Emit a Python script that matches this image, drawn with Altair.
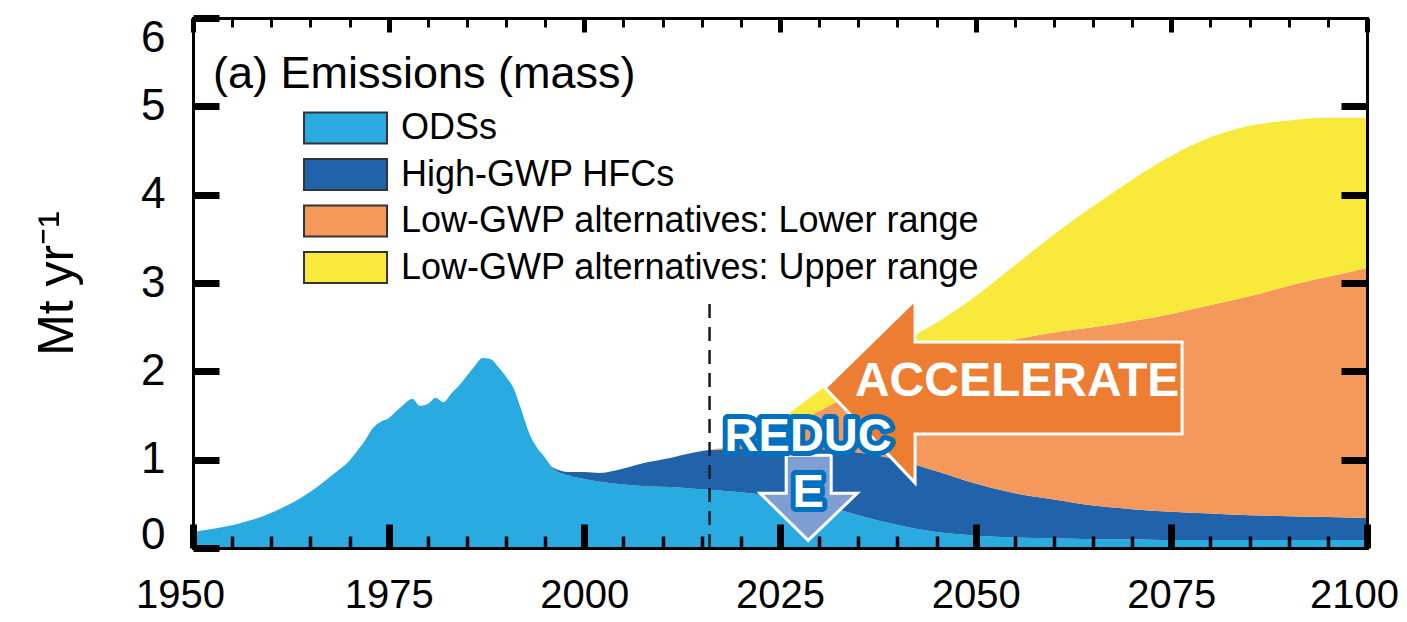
import altair as alt
import pandas as pd

# ---------------- data ----------------
years = [1950, 1952, 1954, 1956, 1958, 1960, 1962, 1964, 1966, 1968, 1970,
         1971, 1972, 1973, 1974, 1975, 1976, 1977, 1978, 1979, 1980, 1981,
         1982, 1983, 1984, 1985, 1986, 1987, 1988, 1989, 1990, 1991, 1992,
         1993, 1994, 1995, 1996,
         1998, 2000, 2002, 2005, 2008, 2011, 2014, 2016,
         2020, 2025, 2030, 2035, 2040, 2045, 2050, 2055, 2060, 2065, 2070,
         2075, 2080, 2085, 2090, 2095, 2100]

ods = [0.18, 0.21, 0.24, 0.28, 0.33, 0.40, 0.48, 0.58, 0.70, 0.84, 0.99,
       1.10, 1.22, 1.36, 1.43, 1.47, 1.55, 1.63, 1.69, 1.61, 1.63, 1.70,
       1.65, 1.75, 1.84, 1.95, 2.06, 2.15, 2.14, 2.05, 1.94, 1.80, 1.55,
       1.29, 1.13, 1.02, 0.90,
       0.82, 0.78, 0.75, 0.72, 0.70, 0.69, 0.67, 0.66,
       0.63, 0.58, 0.50, 0.37, 0.26, 0.18, 0.14, 0.12, 0.11, 0.10, 0.10,
       0.09, 0.09, 0.09, 0.09, 0.09, 0.09]

hfc = [0.0] * 36 + [0.01,
       0.04, 0.08, 0.10, 0.18, 0.27, 0.33, 0.41, 0.45,
       0.49, 0.55, 0.62, 0.71, 0.74, 0.69, 0.59, 0.50, 0.44, 0.38, 0.34,
       0.32, 0.30, 0.28, 0.27, 0.26, 0.25]

low_gwp_lower = [0.0] * 45 + [
       0.05, 0.19, 0.43, 0.70, 0.98, 1.26, 1.53, 1.74, 1.89, 2.02, 2.13,
       2.24, 2.36, 2.48, 2.61, 2.72, 2.83]

low_gwp_upper = [0.0] * 45 + [
       0.03, 0.13, 0.23, 0.28, 0.32, 0.42, 0.59, 0.84, 1.11, 1.37, 1.60,
       1.79, 1.90, 1.93, 1.87, 1.80, 1.70]

series_names = ["ODSs", "High-GWP HFCs",
                "Low-GWP alternatives: Lower range",
                "Low-GWP alternatives: Upper range"]
series_colors = ["#29ABE2", "#2163AA", "#F4995B", "#F9E93A"]

x_major = [1950, 1975, 2000, 2025, 2050, 2075, 2100]
x_minor = [y for y in range(1955, 2100, 5) if y % 25 != 0]
y_labels = [0, 1, 2, 3, 4, 5, 6]
y_inner = [1, 2, 3, 4, 5]

# dashed "today" line
marker_year = [2016]
marker_top = [2.83]

# annotations (data coordinates)
accel_arrow_x = [2053.5]
accel_arrow_y = [1.79]
reduce_arrow_x = [2028.6]
reduce_arrow_y = [0.54]
accel_label = ["ACCELERATE"]
accel_label_x = [2055.3]
accel_label_y = [1.88]
reduce_label = ["REDUC", "E"]
reduce_label_x = [2028.6, 2028.6]
reduce_label_y = [1.26, 0.62]

# ---------------- tables ----------------
rows = []
for k, (name, vals) in enumerate(zip(series_names,
                                     [ods, hfc, low_gwp_lower, low_gwp_upper])):
    for yr, v in zip(years, vals):
        rows.append({"year": yr, "value": v, "series": name, "k": k})
df = pd.DataFrame(rows)

rule_df = pd.DataFrame({"year": marker_year, "y0": [0] * len(marker_year), "y1": marker_top})
accel_arrow_df = pd.DataFrame({"x": accel_arrow_x, "y": accel_arrow_y})
reduce_arrow_df = pd.DataFrame({"x": reduce_arrow_x, "y": reduce_arrow_y})
accel_label_df = pd.DataFrame({"x": accel_label_x, "y": accel_label_y, "t": accel_label})
reduce_label_df = pd.DataFrame({"x": reduce_label_x, "y": reduce_label_y, "t": reduce_label})

# ---------------- styling ----------------
TEXT_FONT = "Liberation Sans, Arial, sans-serif"

xscale = alt.Scale(domain=[1950, 2100], nice=False, zero=False)
yscale = alt.Scale(domain=[0, 6], nice=False)

ax_bottom_major = alt.Axis(
    orient="bottom", values=x_major, format="d", title=None, grid=False,
    domain=False, tickSize=24, tickWidth=7, tickColor="black", offset=-24,
    labelFont=TEXT_FONT, labelFontSize=40, labelColor="black", labelPadding=27,
    labelFlush=False, labelOverlap=False, zindex=1,
    labelOffset={"condition": [{"test": "datum.value == 1950", "value": -13},
                               {"test": "datum.value == 2100", "value": -13}],
                 "value": 0})
ax_bottom_minor = alt.Axis(
    orient="bottom", values=x_minor, labels=False, title=None, grid=False,
    domain=False, tickSize=12, tickWidth=3.5, tickColor="black", offset=-12,
    zindex=1)
ax_top_major = alt.Axis(
    orient="top", values=x_major, labels=False, title=None, grid=False,
    domain=False, tickSize=14, tickWidth=5, tickColor="black", offset=-14,
    zindex=1)
ax_top_minor = alt.Axis(
    orient="top", values=x_minor, labels=False, title=None, grid=False,
    domain=False, tickSize=9, tickWidth=3, tickColor="black", offset=-9,
    zindex=1)
ax_left = alt.Axis(
    orient="left", values=y_labels, format="d", grid=False, domain=False,
    tickSize=26, tickWidth=7, tickColor="black", offset=-26,
    labelFont=TEXT_FONT, labelFontSize=44, labelColor="black", labelPadding=28,
    labelFlush=True, labelFlushOffset=2, zindex=1,
    labelOffset={"condition": {"test": "datum.value == 0", "value": 7},
                 "value": 0},
    title="Mt yr\u207b\u00b9", titleFont=TEXT_FONT, titleFontSize=50,
    titleFontWeight="normal", titleColor="black", titlePadding=58)
ax_right = alt.Axis(
    orient="right", values=y_inner, labels=False, title=None, grid=False,
    domain=False, tickSize=26, tickWidth=7, tickColor="black", offset=-26,
    zindex=1)


def frame_axis(orient):
    return alt.Axis(orient=orient, labels=False, ticks=False, grid=False,
                    title=None, domain=True, domainColor="black",
                    domainWidth=3, domainCap="square", offset=0, zindex=1)


legend = alt.Legend(
    title=None, orient="none", legendX=109, legendY=92, padding=0,
    symbolType="M-1,-0.97H4.19V0.97H-1Z", symbolSize=1024,
    symbolStrokeColor="#333333", symbolStrokeWidth=2, symbolOpacity=1,
    labelFont=TEXT_FONT, labelFontSize=36, labelColor="black",
    labelLimit=1000, labelOffset=63, rowPadding=6.5)

# ---------------- layers ----------------
areas = alt.Chart(df).mark_area(interpolate="monotone", opacity=1).encode(
    x=alt.X("year:Q", scale=xscale, axis=ax_bottom_major),
    y=alt.Y("value:Q", stack="zero", scale=yscale, axis=ax_left),
    color=alt.Color("series:N",
                    scale=alt.Scale(domain=series_names, range=series_colors),
                    legend=legend),
    order=alt.Order("k:Q", sort="ascending"),
)

rule = alt.Chart(rule_df).mark_rule(
    strokeDash=[14, 9], strokeWidth=2.5, color="#1a1a1a").encode(
    x=alt.X("year:Q", scale=xscale, axis=ax_bottom_minor),
    y=alt.Y("y0:Q", scale=yscale, axis=ax_right),
    y2="y1:Q",
)

ACCEL_PATH = "M-178,-2L-88,-90L-88,-48L179,-48L179,44L-88,44L-88,93Z"
REDUCE_PATH = "M-22,-45L23,-45L23,-7L49,-7L0,40L-48,-7L-22,-7Z"

accel_arrow = alt.Chart(accel_arrow_df).mark_point(
    shape=ACCEL_PATH, size=4, filled=True, fill="#ED7D31", stroke="white",
    strokeWidth=3, opacity=1, strokeJoin="miter").encode(
    x=alt.X("x:Q", scale=xscale, axis=ax_top_major),
    y=alt.Y("y:Q", scale=yscale, axis=None),
)

accel_text = alt.Chart(accel_label_df).mark_text(
    font=TEXT_FONT, fontSize=48, fontWeight="bold", color="white",
    align="center", baseline="middle").encode(
    x=alt.X("x:Q", scale=xscale, axis=ax_top_minor),
    y=alt.Y("y:Q", scale=yscale, axis=None),
    text="t:N",
)

reduce_arrow = alt.Chart(reduce_arrow_df).mark_point(
    shape=REDUCE_PATH, size=4, filled=True, fill="#7F9FD2", stroke="white",
    strokeWidth=3, opacity=1).encode(
    x=alt.X("x:Q", scale=xscale, axis=frame_axis("bottom")),
    y=alt.Y("y:Q", scale=yscale, axis=frame_axis("left")),
)

reduce_outline = alt.Chart(reduce_label_df).mark_text(
    font=TEXT_FONT, fontSize=47, fontWeight="bold", color="#0070C0",
    stroke="#0070C0", strokeWidth=10, strokeJoin="round",
    align="center", baseline="middle").encode(
    x=alt.X("x:Q", scale=xscale, axis=frame_axis("top")),
    y=alt.Y("y:Q", scale=yscale, axis=frame_axis("right")),
    text="t:N",
)

reduce_text = alt.Chart(reduce_label_df).mark_text(
    font=TEXT_FONT, fontSize=47, fontWeight="bold", color="white",
    align="center", baseline="middle").encode(
    x=alt.X("x:Q", scale=xscale, axis=None),
    y=alt.Y("y:Q", scale=yscale, axis=None),
    text="t:N",
)

chart = alt.layer(
    areas, rule, accel_arrow, accel_text, reduce_arrow, reduce_outline, reduce_text
).resolve_axis(
    x="independent", y="independent"
).properties(
    width=1174, height=530,
    autosize=alt.AutoSizeParams(type="none"),
    padding={"left": 185, "top": 10, "right": 32, "bottom": 66},
    title=alt.TitleParams(
        "(a) Emissions (mass)", anchor="start", frame="group", orient="top",
        offset=0, dx=20, dy=118, baseline="alphabetic", font=TEXT_FONT,
        fontSize=45, fontWeight="normal", color="black"),
).configure_view(
    stroke="black", strokeWidth=3
).configure(background="white")

chart.save("out.html", embed_options={"renderer": "svg", "actions": False})
